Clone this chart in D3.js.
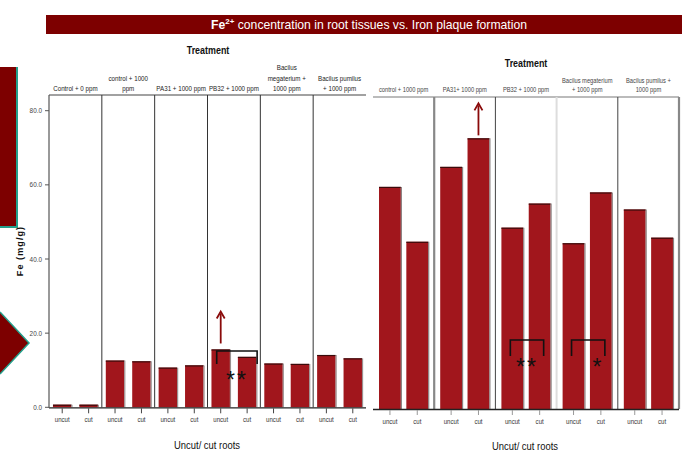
<!DOCTYPE html>
<html>
<head>
<meta charset="utf-8">
<script src="https://cdn.jsdelivr.net/npm/d3@7"></script>
<style>
  html, body { margin: 0; padding: 0; background: #fff; }
  svg { display: block; font-family: "Liberation Sans", Arial, sans-serif; }
</style>
</head>
<body>
<svg id="chart" width="696" height="464"></svg>
<script>
// ---- data ----
const rootTypes = ["uncut", "cut"];

const leftTreatments = ["Control + 0 ppm", "control + 1000 ppm", "PA31 + 1000 ppm",
  "PB32 + 1000 ppm", "Bacilus megaterium + 1000 ppm", "Bacilus pumilus + 1000 ppm"];
const leftHeaderLines = [["Control + 0 ppm"], ["control + 1000", "ppm"], ["PA31 + 1000 ppm"],
  ["PB32 + 1000 ppm"], ["Bacilus", "megaterium +", "1000 ppm"], ["Bacilus pumilus", "+ 1000 ppm"]];
const leftUncut = [0.7, 12.6, 10.7, 15.6, 11.8, 14.1];
const leftCut   = [0.7, 12.4, 11.3, 13.6, 11.7, 13.2];

const rightTreatments = ["control + 1000 ppm", "PA31+ 1000 ppm", "PB32 + 1000 ppm",
  "Bacilus megaterium + 1000 ppm", "Bacilus pumilus + 1000 ppm"];
const rightHeaderLines = [["control + 1000 ppm"], ["PA31+ 1000 ppm"], ["PB32 + 1000 ppm"],
  ["Bacilus megaterium", "+ 1000 ppm"], ["Bacilus pumilus +", "1000 ppm"]];
const rightUncut = [59.9, 65.3, 48.9, 44.7, 53.8];
const rightCut   = [45.1, 73.0, 55.4, 58.4, 46.2];

const yTicks = [0, 20, 40, 60, 80];

// significance brackets (level in mg/g) and increase arrows
const leftBrackets  = [{ group: "PB32 + 1000 ppm", level: 15.2, label: "**" }];
const rightBrackets = [{ group: "PB32 + 1000 ppm", level: 18.6, label: "**" },
                       { group: "Bacilus megaterium + 1000 ppm", level: 18.6, label: "*" }];
const leftArrows  = [{ group: "PB32 + 1000 ppm", root: "uncut" }];
const rightArrows = [{ group: "PA31+ 1000 ppm", root: "cut" }];

const BAR = "#a1161c";
const DARK = "#7d0000";
const TEAL = "#23a08c";

const svg = d3.select("#chart");

// horizontally condensed text
function narrowText(parent, x, y, str, size, opts = {}) {
  return parent.append("text")
    .attr("transform", `translate(${x},${y}) scale(${opts.sx || 0.84},1)`)
    .attr("text-anchor", opts.anchor || "middle")
    .attr("font-size", size)
    .attr("font-weight", opts.weight || "normal")
    .attr("fill", opts.fill || "#222")
    .text(str);
}

// ---- banner & side decorations ----
svg.append("rect").attr("x", 46).attr("y", 15).attr("width", 636).attr("height", 19).attr("fill", DARK);
const title = svg.append("text").attr("x", 369).attr("y", 29).attr("text-anchor", "middle")
  .attr("fill", "#fff").attr("font-size", 12.2);
title.append("tspan").attr("font-weight", "bold").text("Fe");
title.append("tspan").attr("font-size", 8).attr("font-weight", "bold").attr("dy", -5).text("2+");
title.append("tspan").attr("dy", 5).text(" concentration in root tissues vs. Iron plaque formation");

svg.append("rect").attr("x", 0).attr("y", 67).attr("width", 17).attr("height", 160).attr("fill", DARK);
svg.append("path").attr("d", "M17,67 V227 H0").attr("fill", "none").attr("stroke", TEAL).attr("stroke-width", 2);
svg.append("path").attr("d", "M0,312 L29,343 L0,374 Z").attr("fill", DARK);
svg.append("path").attr("d", "M0,312 L29,343 L0,374").attr("fill", "none").attr("stroke", TEAL).attr("stroke-width", 1.5);

// ---- panel chart builder ----
function drawPanelChart(cfg) {
  const g = svg.append("g");
  const x0 = d3.scaleBand().domain(cfg.treatments).range([cfg.left, cfg.right]).padding(0);
  const x1 = d3.scaleBand().domain(rootTypes).range([0, x0.bandwidth()])
    .paddingInner(cfg.padIn).paddingOuter(cfg.padOut);
  const y = d3.scaleLinear().domain([0, 80]).range([cfg.base, cfg.top80]);

  const rows = cfg.treatments.map((t, i) => ({ t, i, uncut: cfg.uncut[i], cut: cfg.cut[i] }));

  // frame: top line and panel separators
  g.append("line").attr("x1", cfg.left).attr("x2", cfg.right).attr("y1", cfg.frameTop).attr("y2", cfg.frameTop)
    .attr("stroke", cfg.topStroke).attr("stroke-width", cfg.topWidth);
  cfg.treatments.forEach((t, i) => {
    if (i === 0) return;
    const st = cfg.sepStyle(i);
    g.append("line").attr("x1", x0(t)).attr("x2", x0(t)).attr("y1", cfg.frameTop).attr("y2", cfg.base)
      .attr("stroke", st.color).attr("stroke-width", st.width);
  });
  if (cfg.rightEdge) {
    g.append("line").attr("x1", cfg.right).attr("x2", cfg.right).attr("y1", cfg.frameTop).attr("y2", cfg.base)
      .attr("stroke", cfg.rightEdge.color).attr("stroke-width", cfg.rightEdge.width);
  }

  // bars
  const groups = g.selectAll("g.grp").data(rows).join("g").attr("class", "grp")
    .attr("transform", d => `translate(${x0(d.t)},0)`);
  const bars = groups.selectAll("g.bar").data(d => rootTypes.map(r => ({ r, v: d[r] }))).join("g").attr("class", "bar");
  bars.append("rect")
    .attr("x", d => x1(d.r)).attr("width", x1.bandwidth())
    .attr("y", d => y(d.v)).attr("height", d => y(0) - y(d.v))
    .attr("fill", BAR);
  // dark top edge and soft grey right edge
  bars.append("line").attr("x1", d => x1(d.r)).attr("x2", d => x1(d.r) + x1.bandwidth())
    .attr("y1", d => y(d.v) + 0.5).attr("y2", d => y(d.v) + 0.5)
    .attr("stroke", "#3a0b0b").attr("stroke-width", 1.2);
  bars.append("line").attr("x1", d => x1(d.r) + x1.bandwidth() + 0.5).attr("x2", d => x1(d.r) + x1.bandwidth() + 0.5)
    .attr("y1", d => y(d.v)).attr("y2", y(0))
    .attr("stroke", cfg.barEdge).attr("stroke-width", 1.2);

  // baseline
  g.append("line").attr("x1", cfg.left).attr("x2", cfg.right).attr("y1", cfg.base + 0.5).attr("y2", cfg.base + 0.5)
    .attr("stroke", "#222").attr("stroke-width", 1.3);

  // x ticks and tick labels
  rows.forEach(d => rootTypes.forEach(r => {
    const cx = x0(d.t) + x1(r) + x1.bandwidth() / 2;
    g.append("line").attr("x1", cx).attr("x2", cx).attr("y1", cfg.base + 1).attr("y2", cfg.base + 6)
      .attr("stroke", cfg.tickColor).attr("stroke-width", 1);
    narrowText(g, cx, cfg.base + 15, r, 7.6, { fill: "#333", sx: 0.8 });
  }));

  // treatment headers
  cfg.treatments.forEach((t, i) => {
    const lines = cfg.headerLines[i];
    const cx = x0(t) + x0.bandwidth() / 2;
    lines.forEach((ln, k) => {
      narrowText(g, cx, cfg.headerBase - (lines.length - 1 - k) * cfg.headerLead, ln, cfg.headerSize,
        { fill: cfg.headerColor, sx: cfg.headerSx });
    });
  });

  narrowText(g, cfg.treatTitle[0], cfg.treatTitle[1], "Treatment", 10.5, { weight: "bold", fill: "#111", sx: 0.85 });
  narrowText(g, cfg.xTitle[0], cfg.xTitle[1], "Uncut/ cut roots", 11.5, { fill: "#111", sx: 0.82 });

  // arrows
  cfg.arrows.forEach(a => {
    const i = cfg.treatments.indexOf(a.group);
    const cx = x0(a.group) + x1(a.root) + x1.bandwidth() / 2;
    const top = y(rows[i][a.root]);
    const y1 = top - cfg.arrowGap, y2 = y1 - 32;
    g.append("line").attr("x1", cx).attr("x2", cx).attr("y1", y1).attr("y2", y2 + 2)
      .attr("stroke", "#8a0a0a").attr("stroke-width", 1.8);
    g.append("path").attr("d", `M${cx - 4},${y2 + 7} L${cx},${y2} L${cx + 4},${y2 + 7}`)
      .attr("fill", "none").attr("stroke", "#8a0a0a").attr("stroke-width", 1.8);
  });

  // significance brackets
  cfg.brackets.forEach(b => {
    const gx = x0(b.group);
    const xa = gx + x1("uncut") + x1.bandwidth() / 2 + cfg.bracketInset[0];
    const xb = gx + x1("cut") + x1.bandwidth() / 2 + cfg.bracketInset[1];
    const yt = y(b.level);
    g.append("path").attr("d", `M${xa},${yt + cfg.bracketLeg} V${yt} H${xb} V${yt + cfg.bracketLeg}`)
      .attr("fill", "none").attr("stroke", "#111").attr("stroke-width", 1.6);
    const tx = b.label.length > 1 ? (xa + xb) / 2 : xb - 7;
    g.append("text").attr("x", tx).attr("y", yt + cfg.starDy)
      .attr("text-anchor", "middle")
      .attr("font-size", 23).attr("fill", "#111").attr("letter-spacing", 2).text(b.label);
  });

  return { x0, x1, y };
}

// ---- left chart (with y axis) ----
const L = drawPanelChart({
  treatments: leftTreatments, headerLines: leftHeaderLines,
  uncut: leftUncut, cut: leftCut,
  left: 49, right: 366, base: 407.3, top80: 110.7, frameTop: 95,
  padIn: 0.3, padOut: 0.15,
  topStroke: "#444", topWidth: 1.2,
  sepStyle: () => ({ color: "#333", width: 1 }),
  rightEdge: null,
  barEdge: "#9a9090", tickColor: "#444",
  headerBase: 91, headerLead: 10.5, headerSize: 7.4, headerColor: "#222", headerSx: 0.84,
  treatTitle: [208, 54], xTitle: [207, 449],
  arrows: leftArrows, arrowGap: 6,
  brackets: leftBrackets, bracketInset: [-4, 10], bracketLeg: 13, starDy: 37
});

// y axis for left chart
const yAxisG = svg.append("g").attr("transform", "translate(49,0)");
yAxisG.append("line").attr("x1", 0).attr("x2", 0).attr("y1", 95).attr("y2", 407.8)
  .attr("stroke", "#555").attr("stroke-width", 1.2);
yTicks.forEach(t => {
  yAxisG.append("line").attr("x1", -4).attr("x2", 0).attr("y1", L.y(t)).attr("y2", L.y(t))
    .attr("stroke", "#555").attr("stroke-width", 1);
  narrowText(yAxisG, -7, L.y(t) + 2.5, d3.format(".1f")(t), 7.5, { anchor: "end", fill: "#444", sx: 0.85 });
});
svg.append("text").attr("transform", "translate(23,251) rotate(-90)")
  .attr("text-anchor", "middle")
  .attr("font-size", 9).attr("font-weight", "bold").attr("letter-spacing", 1.1).attr("fill", "#111")
  .text("Fe (mg/g)");

// ---- right chart ----
drawPanelChart({
  treatments: rightTreatments, headerLines: rightHeaderLines,
  uncut: rightUncut, cut: rightCut,
  left: 373, right: 679, base: 409, top80: 112.4, frameTop: 97,
  padIn: 0.2, padOut: 0.22,
  topStroke: "#bbb", topWidth: 2,
  sepStyle: i => i === 1 ? { color: "#888", width: 2.2 } : i === 3 ? { color: "#ddd", width: 2 } : { color: "#444", width: 1 },
  rightEdge: { color: "#888", width: 2.2 },
  barEdge: "#8a8080", tickColor: "#999",
  headerBase: 92, headerLead: 9, headerSize: 7.2, headerColor: "#444", headerSx: 0.8,
  treatTitle: [526, 67], xTitle: [525, 450],
  arrows: rightArrows, arrowGap: 3,
  brackets: rightBrackets, bracketInset: [-2, 4], bracketLeg: 16, starDy: 35
});
</script>
</body>
</html>
